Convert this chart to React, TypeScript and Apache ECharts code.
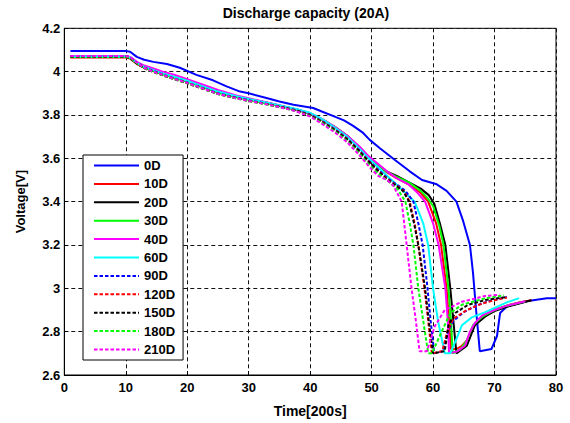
import React, { useEffect, useRef } from "react";
import * as echarts from "echarts";

const seriesNames = ["0D", "10D", "20D", "30D", "40D", "60D", "90D", "120D", "150D", "180D", "210D"];
const seriesColors = ["#0000ff", "#ff0000", "#000000", "#00ff00", "#ff00ff", "#00ffff", "#0000ff", "#ff0000", "#000000", "#00ff00", "#ff00ff"];
const seriesDashed = [false, false, false, false, false, false, true, true, true, true, true];

const xTicks = [0, 10, 20, 30, 40, 50, 60, 70, 80];
const yTicks = [2.6, 2.8, 3.0, 3.2, 3.4, 3.6, 3.8, 4.0, 4.2];

const d0D: number[][] = [[1,4.095],[10,4.095],[10.7,4.092],[11.8,4.068],[13,4.055],[14.5,4.045],[16.7,4.035],[18.8,4.018],[21.5,3.985],[24.2,3.96],[26.4,3.932],[28.6,3.908],[30,3.9],[32.9,3.878],[35,3.862],[37.3,3.847],[40.5,3.832],[42,3.815],[43.8,3.795],[45.5,3.775],[47,3.75],[48.5,3.72],[49.7,3.685],[51.4,3.645],[53.8,3.592],[56.2,3.54],[58.2,3.5],[60.6,3.48],[62.2,3.45],[63.8,3.4],[64.9,3.31],[66,3.2],[66.5,3.07],[67,2.9],[67.6,2.71],[69.5,2.72],[70.4,2.78],[70.9,2.886],[72,2.916],[75.2,2.94],[78.5,2.954],[80,2.954]];

// shared time stamps for the early (common) part of the aged-cell curves
const earlyX = [1,10,10.7,11.8,13,14.5,16,18,20,22,25,28,30,33,36,38,40,42,44,46,48,49.5,51,52.5];

const early10D = [4.065,4.065,4.06,4.035,4.018,4.005,3.99,3.975,3.958,3.94,3.91,3.887,3.874,3.856,3.836,3.823,3.806,3.777,3.743,3.703,3.65,3.605,3.57,3.535];
const tail10D = [[54,3.51],[56,3.48],[58,3.44],[59.2,3.4],[60.5,3.3],[61.3,3.2],[62.2,3.0],[62.6,2.85],[62.9,2.72],[63.8,2.72],[64.7,2.735],[65.5,2.76],[66.3,2.81],[67.9,2.87],[70,2.9],[72,2.92],[74,2.935],[76,2.945]];

const early20D = [4.07,4.07,4.065,4.04,4.02,4.005,3.99,3.972,3.956,3.936,3.906,3.886,3.874,3.856,3.837,3.824,3.807,3.78,3.745,3.705,3.652,3.607,3.572,3.538];
const tail20D = [[54,3.52],[56,3.49],[58,3.46],[59.3,3.43],[60.2,3.39],[61.1,3.3],[62,3.2],[62.8,3.0],[63.3,2.85],[63.8,2.7],[65.5,2.735],[66.8,2.83],[68.5,2.87],[70,2.895],[72,2.915],[74,2.93],[76,2.945]];

const early30D = [4.068,4.068,4.063,4.038,4.018,4.003,3.988,3.97,3.954,3.933,3.903,3.882,3.87,3.853,3.835,3.823,3.806,3.778,3.744,3.704,3.65,3.606,3.571,3.537];
const tail30D = [[54,3.515],[56,3.49],[58,3.45],[59,3.42],[60,3.38],[61,3.29],[61.7,3.2],[62.5,3.0],[62.9,2.85],[63.2,2.7],[64.5,2.72],[65.5,2.76],[66.5,2.83],[68,2.87],[70,2.9],[72,2.92],[75,2.94]];

const early40D = [4.072,4.072,4.068,4.045,4.028,4.015,4.0,3.985,3.965,3.945,3.915,3.89,3.877,3.858,3.838,3.824,3.808,3.78,3.745,3.705,3.655,3.61,3.575,3.54];
const tail40D = [[54,3.51],[56,3.48],[57.5,3.44],[58.7,3.4],[60,3.3],[60.9,3.2],[62,3.0],[62.4,2.85],[62.6,2.7],[64,2.71],[65.2,2.735],[66,2.8],[66.8,2.84],[68,2.875],[70,2.9],[72,2.92],[75,2.94]];

const early60D = [4.07,4.07,4.065,4.04,4.022,4.007,3.992,3.975,3.958,3.938,3.908,3.886,3.874,3.857,3.838,3.826,3.81,3.78,3.742,3.7,3.645,3.6,3.56,3.52];
const tail60D = [[54,3.48],[55.5,3.44],[57,3.4],[58.4,3.3],[59.2,3.2],[60,3.0],[60.8,2.85],[61.9,2.7],[62.8,2.7],[64,2.78],[64.7,2.83],[66.3,2.866],[68.5,2.89],[70,2.91],[72,2.935],[74,2.955]];

const early90D = [4.072,4.072,4.067,4.042,4.02,4.003,3.987,3.968,3.95,3.93,3.9,3.88,3.868,3.851,3.833,3.82,3.802,3.77,3.735,3.692,3.637,3.59,3.55,3.51];
const tail90D = [[54,3.48],[55.5,3.45],[56.8,3.4],[57.6,3.3],[58.3,3.2],[59.1,3.0],[59.6,2.85],[60.2,2.7],[61.6,2.71],[62.4,2.8],[63.3,2.85],[65,2.89],[67,2.92],[69,2.94],[72,2.96]];

const early120D = [4.07,4.07,4.065,4.04,4.018,4.0,3.985,3.966,3.948,3.928,3.898,3.878,3.866,3.85,3.832,3.818,3.8,3.768,3.732,3.69,3.634,3.587,3.545,3.505];
const tail120D = [[54,3.475],[55.2,3.45],[56.2,3.4],[57,3.3],[57.6,3.2],[58.6,3.0],[59.2,2.85],[59.8,2.7],[61.5,2.71],[62.3,2.8],[63.3,2.86],[65.5,2.9],[68,2.93],[70,2.945],[72,2.958]];

const early150D = [4.068,4.068,4.063,4.038,4.016,3.998,3.983,3.964,3.946,3.926,3.897,3.877,3.865,3.849,3.831,3.817,3.798,3.766,3.73,3.688,3.632,3.585,3.543,3.503];
const tail150D = [[54,3.472],[55.1,3.45],[56.1,3.4],[56.9,3.3],[57.6,3.2],[58.7,3.0],[59.3,2.85],[60,2.7],[61.9,2.71],[62.5,2.83],[63.6,2.886],[65.7,2.924],[68.5,2.946],[72,2.96]];

const early180D = [4.07,4.07,4.065,4.04,4.017,3.999,3.984,3.965,3.947,3.927,3.897,3.876,3.864,3.848,3.83,3.815,3.795,3.762,3.725,3.68,3.622,3.572,3.53,3.5];
const tail180D = [[54.3,3.455],[55.5,3.4],[56.2,3.3],[56.8,3.2],[57.6,3.0],[58.4,2.85],[59.2,2.7],[59.8,2.7],[61.4,2.8],[62.8,2.886],[64.7,2.924],[68.5,2.954],[71.5,2.968]];

const early210D = [4.072,4.072,4.067,4.042,4.018,4.0,3.985,3.966,3.948,3.928,3.898,3.877,3.865,3.849,3.83,3.814,3.793,3.758,3.72,3.675,3.615,3.565,3.52,3.5];
const tail210D = [[53.5,3.475],[54.9,3.4],[55.3,3.3],[55.7,3.2],[56.5,3.0],[57.2,2.85],[57.8,2.71],[59,2.71],[60.3,2.826],[61.9,2.9],[64.7,2.938],[68.5,2.965],[70.8,2.97]];

const build = (early: number[], tail: number[][]) => earlyX.map((x, i) => [x, early[i]]).concat(tail);

const seriesData: number[][][] = [
  d0D,
  build(early10D, tail10D),
  build(early20D, tail20D),
  build(early30D, tail30D),
  build(early40D, tail40D),
  build(early60D, tail60D),
  build(early90D, tail90D),
  build(early120D, tail120D),
  build(early150D, tail150D),
  build(early180D, tail180D),
  build(early210D, tail210D),
];

const FONT = "'Liberation Sans', Arial, Helvetica, sans-serif";

export default function App() {
  const ref = useRef<HTMLDivElement>(null);
  useEffect(() => {
    if (!ref.current) return;
    const chart = echarts.init(ref.current, null, { renderer: "svg" });
    chart.setOption({
      animation: false,
      backgroundColor: "#ffffff",
      textStyle: { fontFamily: FONT },
      title: {
        text: "Discharge capacity (20A)",
        left: 306,
        textAlign: "center",
        top: 6,
        padding: 0,
        textStyle: { fontFamily: FONT, fontSize: 14, fontWeight: "bold", color: "#000" },
      },
      grid: {
        left: 64.3,
        right: 14,
        top: 28.3,
        bottom: 39.4,
        show: true,
        borderColor: "#000",
        borderWidth: 1,
        backgroundColor: "#fff",
      },
      legend: {
        orient: "vertical",
        left: 83,
        top: 155,
        padding: [4, 8, 4, 10],
        itemWidth: 45,
        itemHeight: 14,
        itemGap: 5.4,
        backgroundColor: "#fff",
        borderColor: "#000",
        borderWidth: 1,
        borderRadius: 0,
        data: seriesNames,
        itemStyle: { opacity: 0, borderWidth: 0 },
        textStyle: { fontFamily: FONT, fontSize: 13, fontWeight: "bold", color: "#000" },
      },
      xAxis: {
        type: "value",
        min: xTicks[0],
        max: xTicks[xTicks.length - 1],
        interval: 10,
        name: "Time[200s]",
        nameLocation: "middle",
        nameGap: 29,
        nameTextStyle: { fontFamily: FONT, fontSize: 14, fontWeight: "bold", color: "#000" },
        axisLine: { show: true, lineStyle: { color: "#000", width: 1 } },
        axisTick: { show: true, inside: true, length: 4, lineStyle: { color: "#000" } },
        axisLabel: { fontFamily: FONT, fontSize: 13, fontWeight: "bold", color: "#000", margin: 6 },
        splitLine: { show: true, lineStyle: { color: "#111", type: [4, 3], width: 1 } },
      },
      yAxis: {
        type: "value",
        min: yTicks[0],
        max: yTicks[yTicks.length - 1],
        interval: 0.2,
        name: "Voltage[V]",
        nameLocation: "middle",
        nameGap: 37,
        nameTextStyle: { fontFamily: FONT, fontSize: 13, fontWeight: "bold", color: "#000" },
        axisLine: { show: true, lineStyle: { color: "#000", width: 1 } },
        axisTick: { show: true, inside: true, length: 4, lineStyle: { color: "#000" } },
        axisLabel: { fontFamily: FONT, fontSize: 13, fontWeight: "bold", color: "#000", margin: 4 },
        splitLine: { show: true, lineStyle: { color: "#111", type: [4, 3], width: 1 } },
      },
      series: seriesNames.map((name, i) => ({
        name,
        type: "line",
        data: seriesData[i],
        symbol: "none",
        showSymbol: false,
        clip: true,
        color: seriesColors[i],
        itemStyle: { color: seriesColors[i], opacity: 0 },
        lineStyle: {
          color: seriesColors[i],
          width: 2,
          opacity: 1,
          type: seriesDashed[i] ? [3.5, 2] : "solid",
        },
      })),
    });
    return () => chart.dispose();
  }, []);
  return <div ref={ref} style={{ position: "absolute", left: 0, top: 0, width: 570, height: 423 }} />;
}
